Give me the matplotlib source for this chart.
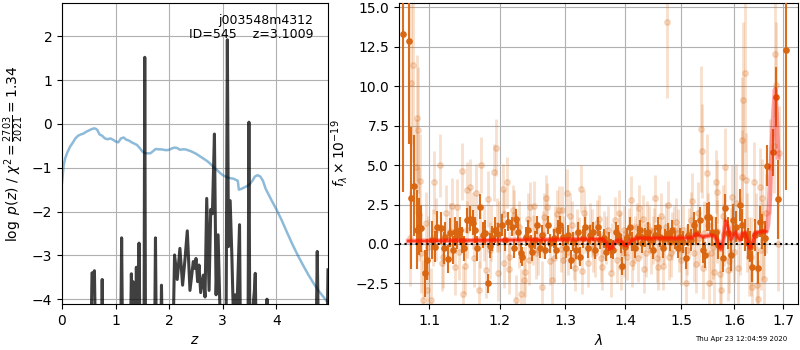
import matplotlib
matplotlib.use('Agg')
import matplotlib.pyplot as plt
from matplotlib.ticker import FixedLocator, FormatStrFormatter, NullLocator

# ---------------- left panel data: p(z) ----------------
z_chi = [0.0, 0.03, 0.06, 0.1, 0.15, 0.2, 0.25, 0.3, 0.35, 0.4, 0.45, 0.5, 0.55, 0.6, 0.63, 0.66,
         0.7, 0.75, 0.8, 0.85, 0.9, 0.95, 1.0, 1.05, 1.1, 1.15, 1.2, 1.25, 1.3, 1.35, 1.4, 1.45,
         1.5, 1.55, 1.6, 1.65, 1.7, 1.75, 1.8, 1.85, 1.9, 1.95, 2.0, 2.05, 2.1, 2.15, 2.2, 2.25,
         2.3, 2.35, 2.4, 2.45, 2.5, 2.55, 2.6, 2.65, 2.7, 2.75, 2.8, 2.85, 2.9, 2.95, 3.0, 3.05,
         3.1, 3.15, 3.2, 3.25, 3.28, 3.3, 3.35, 3.4, 3.45, 3.5, 3.55, 3.6, 3.65, 3.7, 3.75, 3.8,
         3.9, 4.0, 4.1, 4.2, 4.3, 4.4, 4.5, 4.6, 4.7, 4.8, 4.9, 4.96]
chi_scaled = [-1.35, -0.95, -0.78, -0.65, -0.52, -0.43, -0.33, -0.27, -0.24, -0.22, -0.18, -0.15, -0.12, -0.1, -0.11, -0.14,
              -0.24, -0.27, -0.33, -0.35, -0.33, -0.36, -0.4, -0.42, -0.33, -0.31, -0.36, -0.38, -0.42, -0.45, -0.48, -0.55,
              -0.63, -0.67, -0.67, -0.67, -0.62, -0.57, -0.58, -0.58, -0.59, -0.6, -0.59, -0.56, -0.54, -0.55, -0.59, -0.58,
              -0.58, -0.6, -0.62, -0.65, -0.68, -0.72, -0.76, -0.8, -0.84, -0.89, -0.95, -1.01, -1.06, -1.12, -1.17, -1.2,
              -1.23, -1.24, -1.25, -1.28, -1.3, -1.5, -1.48, -1.45, -1.42, -1.38, -1.3, -1.2, -1.17, -1.2, -1.3, -1.48,
              -1.72, -1.95, -2.2, -2.48, -2.75, -3.0, -3.23, -3.45, -3.65, -3.83, -3.98, -4.08]

z_pz = [0.00, 0.54, 0.56, 0.585, 0.605, 0.625, 0.735, 0.75, 0.765, 1.095, 1.1125, 1.13,
        1.275, 1.294, 1.31, 1.325, 1.345, 1.37, 1.3875, 1.405, 1.42, 1.4375, 1.455,
        1.53, 1.544, 1.558, 1.728, 1.744, 1.76, 1.842, 1.856, 1.872,
        2.07, 2.10, 2.15, 2.20, 2.25, 2.294, 2.3375, 2.3875, 2.45, 2.481, 2.50, 2.531,
        2.556, 2.5875, 2.6375, 2.669, 2.70, 2.744, 2.775, 2.806, 2.844, 2.875, 2.9125,
        2.95, 2.99, 3.06, 3.085, 3.106, 3.1375, 3.169, 3.20, 3.231, 3.26, 3.3125, 3.33,
        3.47, 3.4875, 3.505, 3.59, 3.606, 3.625, 3.80, 3.825, 3.85, 4.74, 4.7625, 4.785,
        4.945, 4.9625]
logpz = [-5.0, -5.0, -3.40, -3.45, -3.35, -5.0, -5.0, -3.55, -5.0, -5.0, -2.60, -5.0,
         -5.0, -3.42, -4.2, -3.60, -5.0, -5.0, -3.27, -5.0, -5.0, -2.72, -5.0,
         -5.0, 1.52, -5.0, -5.0, -2.60, -5.0, -5.0, -3.68, -5.0,
         -5.0, -2.99, -3.55, -2.84, -3.68, -3.10, -2.44, -3.80, -3.14, -3.30, -3.07, -3.60,
         -3.22, -3.85, -3.45, -3.95, -1.70, -3.80, -1.95, -2.05, -0.23, -3.90, -2.53,
         -4.4, -5.0, -5.0, 1.92, -2.80, -1.75, -3.00, -4.5, -3.90, -4.4, -2.30, -5.0,
         -5.0, 0.04, -5.0, -3.80, -3.41, -5.0, -5.0, -4.00, -5.0, -5.0, -2.91, -5.0,
         -5.0, -3.33]

z_ticks = [0, 1, 2, 3, 4]
logp_ticks = [-4, -3, -2, -1, 0, 1, 2]

# ---------------- right panel data: spectrum ----------------
bin_wave = [1.0655, 1.0728, 1.0756, 1.0796, 1.0839, 1.0862, 1.0885, 1.0942, 1.0970, 1.1041,
            1.1077, 1.1108, 1.1155, 1.1200, 1.1223, 1.1259, 1.1292, 1.1325, 1.1352, 1.1384,
            1.1421, 1.1454, 1.1479, 1.1525, 1.1573, 1.1606, 1.1634, 1.1667, 1.1715, 1.1748,
            1.1788, 1.1825, 1.1852, 1.1884, 1.1933, 1.1975, 1.2030, 1.2081, 1.2122, 1.2173,
            1.2208, 1.2234, 1.2274, 1.2310, 1.2335, 1.2386, 1.2421, 1.2462, 1.2487, 1.2528,
            1.2563, 1.2599, 1.2640, 1.2690, 1.2731, 1.2766, 1.2817, 1.2853, 1.2883, 1.2919,
            1.2970, 1.3010, 1.3050, 1.3094, 1.3133, 1.3171, 1.3204, 1.3243, 1.3282, 1.3326,
            1.3370, 1.3409, 1.3448, 1.3492, 1.3530, 1.3575, 1.3630, 1.3668, 1.3713, 1.3757,
            1.3796, 1.3834, 1.3879, 1.3923, 1.3945, 1.3989, 1.4036, 1.4077, 1.4119, 1.4167,
            1.4214, 1.4256, 1.4298, 1.4345, 1.4393, 1.4435, 1.4476, 1.4524, 1.4571, 1.4613,
            1.4655, 1.4702, 1.4750, 1.4792, 1.4833, 1.4881, 1.4929, 1.4970, 1.5032, 1.5076,
            1.5127, 1.5178, 1.5223, 1.5268, 1.5349, 1.5393, 1.5431, 1.5475, 1.5507, 1.5569,
            1.5645, 1.5696, 1.5778, 1.5823, 1.5886, 1.5937, 1.5981, 1.6047, 1.6115, 1.6162,
            1.6216, 1.6270, 1.6318, 1.6351, 1.6419, 1.6473, 1.6520, 1.6568, 1.6622, 1.6670,
            1.6787, 1.6843, 1.6897, 1.7062]
bin_flux = [13.3, 12.86, 2.9, 3.68, 0.9, 1.1, 1.0, -1.86, -1.0, 0.25,
            -0.17, 1.1, 1.0, -0.27, 0.47, -0.97, 0.72, -0.38, 0.78, 0.57,
            0.89, 0.25, -0.27, 1.5, 1.6, 1.35, 0.89, -0.27, 2.37, 0.57,
            0.72, -2.5, -0.1, 0.36, 0.89, 0.6, 1.2, 0.25, 1.4, 1.1,
            -0.27, 1.6, 0.78, -0.6, -0.8, 0.47, 0.89, -0.06, -0.5, 0.25,
            1.2, -0.27, 0.57, -0.38, 1.2, 0.04, 0.36, -0.38, 0.89, 1.2,
            0.47, -0.27, 0.57, -1.0, 0.15, -0.38, 0.78, -0.8, 0.36, 1.1,
            -0.27, 0.57, 0.78, -0.38, 1.1, 0.25, 0.36, -0.49, 0.15, -0.27,
            -0.38, 0.78, 0.57, 0.04, -1.40, -0.17, 0.42, 1.10, 0.15, -0.27,
            0.51, 0.89, 0.04, 0.42, 0.78, 0.25, -0.38, 0.57, 1.10, 0.42,
            -0.27, 0.36, 0.72, 0.15, 0.89, 0.25, -0.27, 0.42, 0.15, -0.91,
            0.57, 0.25, 1.21, 0.72, 1.52, -0.38, -0.7, 1.69, 1.73, 0.78,
            0.78, -0.06, -0.91, 2.26, 0.68, -0.7, 1.52, 1.10, 2.47, 1.21,
            0.57, 0.04, -0.17, -1.44, 0.57, -1.54, 1.42, 0.78, 0.36, 4.96,
            5.81, 9.33, 2.83, 12.3]
bin_err = [10.0, 6.5, 4.5, 3.2, 2.5, 1.8, 1.5, 1.5, 1.3, 1.2,
           1.0, 1.0, 1.0, 1.0, 0.9, 0.9, 0.9, 0.9, 0.9, 0.9,
           0.8, 0.8, 0.8, 0.8, 0.8, 0.8, 0.8, 0.8, 0.8, 0.8,
           0.8, 0.6, 0.8, 0.8, 0.8, 0.7, 0.7, 0.7, 0.6, 0.6,
           0.6, 0.6, 0.6, 0.6, 0.6, 0.6, 0.6, 0.6, 0.6, 0.6,
           0.6, 0.6, 0.6, 0.6, 0.6, 0.6, 0.6, 0.6, 0.6, 0.6,
           0.6, 0.6, 0.6, 0.6, 0.6, 0.6, 0.6, 0.6, 0.6, 0.6,
           0.6, 0.6, 0.6, 0.6, 0.6, 0.6, 0.6, 0.6, 0.6, 0.6,
           0.6, 0.6, 0.6, 0.6, 0.6, 0.6, 0.6, 0.6, 0.6, 0.6,
           0.6, 0.6, 0.6, 0.6, 0.6, 0.6, 0.6, 0.6, 0.6, 0.6,
           0.6, 0.6, 0.6, 0.6, 0.6, 0.6, 0.6, 0.6, 0.7, 0.7,
           0.7, 0.7, 0.8, 0.8, 0.8, 0.8, 0.8, 0.9, 0.9, 0.9,
           0.9, 0.9, 0.9, 0.9, 1.0, 1.0, 1.0, 1.0, 1.0, 1.0,
           1.0, 1.0, 1.0, 1.0, 1.0, 1.0, 1.0, 1.1, 1.1, 1.3,
           1.5, 1.9, 2.5, 8.9]

raw_wave = [1.0763, 1.0784, 1.0819, 1.0836, 1.0853, 1.0883, 1.0862, 1.0741, 1.0892, 1.0914,
            1.0957, 1.0965, 1.0991, 1.1024, 1.1071, 1.1094, 1.1142, 1.1189, 1.1236, 1.1307,
            1.1354, 1.1387, 1.1448, 1.1472, 1.1495, 1.1519, 1.1566, 1.1604, 1.1651, 1.1689,
            1.1731, 1.1764, 1.1802, 1.1830, 1.1873, 1.1906, 1.1943, 1.1967, 1.1991, 1.2040,
            1.2101, 1.2066, 1.2141, 1.2192, 1.2242, 1.2318, 1.2283, 1.2369, 1.2419, 1.2455,
            1.2505, 1.2545, 1.2631, 1.2672, 1.2722, 1.2798, 1.2838, 1.2899, 1.2939, 1.2975,
            1.3028, 1.3083, 1.3139, 1.3194, 1.3261, 1.3306, 1.3378, 1.3444, 1.3489, 1.3556,
            1.3611, 1.3667, 1.3750, 1.3822, 1.3889, 1.3933, 1.3972, 1.4030, 1.4090, 1.4132,
            1.4198, 1.4240, 1.4311, 1.4359, 1.4419, 1.4479, 1.4527, 1.4569, 1.4629, 1.4689,
            1.4731, 1.4749, 1.4808, 1.4868, 1.4928, 1.4988, 1.5082, 1.5146, 1.5196, 1.5241,
            1.5304, 1.5367, 1.5380, 1.5430, 1.5475, 1.5525, 1.5557, 1.5620, 1.5652, 1.5677,
            1.5747, 1.5778, 1.5829, 1.5873, 1.5937, 1.5968, 1.6033, 1.6153, 1.6187, 1.6220,
            1.6167, 1.6233, 1.6267, 1.6333, 1.6367, 1.6400, 1.6447, 1.6487, 1.6513, 1.6567,
            1.6600, 1.6633, 1.6733, 1.6800, 1.6833, 1.6847, 1.6900, 1.6887,
            1.105, 1.117, 1.128, 1.141, 1.153, 1.162, 1.171, 1.185, 1.196,
            1.206, 1.214, 1.221, 1.229, 1.236, 1.244, 1.251, 1.258, 1.265, 1.270, 1.276,
            1.283, 1.287, 1.295, 1.299, 1.305, 1.311, 1.316, 1.322, 1.328, 1.333, 1.340,
            1.346, 1.352, 1.358, 1.364, 1.370, 1.378, 1.385, 1.391, 1.398, 1.406, 1.411,
            1.417, 1.422, 1.428, 1.433, 1.438, 1.444, 1.450, 1.455, 1.460, 1.466, 1.471,
            1.477, 1.482, 1.490, 1.495, 1.503, 1.510, 1.517, 1.527, 1.533, 1.541, 1.550,
            1.559, 1.566, 1.572, 1.580, 1.590, 1.599, 1.608, 1.612, 1.629, 1.645, 1.653, 1.658]
raw_flux = [10.2, 11.35, 4.9, 8.0, 7.2, 4.0, 1.9, 0.35, -0.6, -3.55,
            1.3, -2.9, -0.2, -3.55, 3.9, 0.9, 5.0, -0.8, 1.95, 2.4,
            -1.45, 2.35, 4.6, -3.2, -1.4, 3.4, 3.6, 1.5, 3.25, -2.9,
            5.0, 0.7, -1.65, 2.85, 0.7, 4.55, 6.1, -1.85, 1.1, 3.5,
            3.9, -1.2, -0.8, 2.15, -3.55, -3.2, 1.1, -1.75, 1.6, 2.35,
            0.25, -0.6, -2.7, 1.7, 2.35, -2.3, 0.9, 2.15, -0.3, -1.0,
            3.25, 1.75, -0.8, 0.7, 3.5, 1.95, -1.2, 0.7, -0.6, 1.6,
            -1.45, 0.25, -1.85, 1.5, 1.95, -1.45, 0.9, -0.8, 2.8, -0.15,
            1.1, 2.25, 1.6, -0.6, 0.9, 0.25, 2.9, -1.45, 1.75, 0.25,
            14.05, 2.5, -0.6, 0.9, 0.7, -1.0, -2.5, 0.7, 2.7, -0.6,
            1.95, 7.3, 5.9, 0.7, 4.5, -2.5, -0.6, -1.8, 3.95, 3.3,
            -2.9, 1.75, 4.85, -1.65, 0.25, 3.0, 2.6, 6.6, 9.1, 10.85,
            4.25, 4.05, 0.7, -0.8, -2.7, 3.95, 0.7, -3.5, 3.6, 2.9,
            -2.2, 1.95, 4.9, 6.2, 12.05, 10.1, 5.75, 0.0,
            0.4, -1.2, 0.8, -0.5, 0.9, -0.9, 0.3, -0.4, 1.2,
            1.9, -1.6, 1.85, 0.1, -2.3, -1.0, 2.4, -0.4, 0.6, 2.9, -1.1,
            -0.9, 1.9, 2.15, 0.3, -0.5, 1.2, -1.5, 0.2, -1.7, 0.9, 1.1,
            -0.3, 1.3, -0.9, 0.6, 0.9, -0.2, -1.0, 0.5, -0.6, 0.8, -1.2,
            0.3, -0.9, 0.6, -1.6, 1.2, -0.4, 0.8, -0.9, 0.3, -1.4, 1.1,
            -0.8, 0.5, 1.4, -0.3, 0.9, -0.4, 1.5, -1.3, 0.4, -1.5, 1.2,
            -0.2, 0.8, -1.9, 0.6, -1.1, -0.5, -1.5, 0.5, -0.8, -2.6, -0.4, 0.2]
raw_err = [5.0, 5.0, 3.0, 4.0, 4.0, 3.0, 3.0, 3.0, 2.5, 2.5,
           2.0, 2.0, 2.0, 2.0, 2.0, 2.0, 2.0, 2.0, 1.8, 1.8,
           1.8, 1.8, 1.8, 1.8, 1.8, 1.8, 1.8, 1.8, 1.8, 1.8,
           1.8, 1.8, 1.8, 1.8, 1.8, 1.8, 1.8, 1.8, 1.6, 1.6,
           1.6, 1.6, 1.6, 1.6, 1.6, 1.6, 1.6, 1.6, 1.6, 1.6,
           1.6, 1.6, 1.6, 1.5, 1.5, 1.5, 1.5, 1.5, 1.5, 1.5,
           1.5, 1.5, 1.5, 1.5, 1.5, 1.5, 1.5, 1.5, 1.5, 1.5,
           1.5, 1.5, 1.5, 1.5, 1.5, 1.5, 1.5, 1.5, 1.5, 1.5,
           1.5, 1.5, 1.5, 1.5, 1.5, 1.5, 1.5, 1.5, 1.5, 1.5,
           4.8, 1.5, 1.5, 1.5, 1.5, 1.6, 1.6, 1.6, 1.8, 1.8,
           2.0, 4.0, 3.0, 2.0, 2.5, 2.0, 2.0, 2.0, 2.0, 2.0,
           2.0, 2.0, 2.5, 2.0, 2.0, 2.0, 2.5, 4.0, 5.0, 5.0,
           3.0, 3.0, 2.5, 2.5, 2.5, 2.5, 2.5, 2.5, 2.5, 2.5,
           2.5, 2.5, 3.0, 3.0, 4.0, 4.0, 3.0, 3.0,
           1.8, 1.8, 1.8, 1.8, 1.8, 1.8, 1.8, 1.8, 1.7,
           1.6, 1.6, 1.6, 1.6, 1.6, 1.6, 1.6, 1.6, 1.5, 1.5, 1.5,
           1.5, 1.5, 1.5, 1.5, 1.5, 1.5, 1.5, 1.5, 1.5, 1.5, 1.5,
           1.5, 1.5, 1.5, 1.5, 1.5, 1.5, 1.5, 1.5, 1.5, 1.5, 1.5,
           1.5, 1.5, 1.5, 1.5, 1.5, 1.5, 1.5, 1.5, 1.5, 1.5, 1.5,
           1.5, 1.5, 1.5, 1.5, 1.6, 1.6, 1.8, 1.8, 1.8, 2.0, 2.0,
           2.0, 2.0, 2.0, 2.0, 2.0, 2.0, 2.5, 2.5, 2.5, 2.5, 2.5, 2.5]

model_wave = [1.072, 1.10, 1.15, 1.20, 1.25, 1.30, 1.35, 1.362, 1.368, 1.372, 1.377, 1.382,
              1.386, 1.392, 1.398, 1.402, 1.406, 1.41, 1.42, 1.45, 1.48, 1.51, 1.52, 1.527,
              1.534, 1.54, 1.548, 1.555, 1.562, 1.568, 1.574, 1.579, 1.584, 1.589, 1.594,
              1.598, 1.603, 1.608, 1.612, 1.617, 1.622, 1.627, 1.632, 1.637, 1.642, 1.65,
              1.66, 1.665, 1.668, 1.672, 1.676, 1.68, 1.683, 1.686, 1.689]
model_flux = [0.18, 0.2, 0.22, 0.24, 0.26, 0.28, 0.3, 0.3, 0.05, -0.3, -0.25, 0.1,
              0.2, 0.25, -0.05, -0.1, 0.05, 0.25, 0.35, 0.36, 0.36, 0.38, 0.4, 0.62,
              0.55, 0.45, 0.5, 0.55, 0.5, 0.2, -0.35, 0.3, 1.45, 1.0, 0.3,
              0.5, 0.75, 0.4, 0.25, 0.7, 0.7, 0.2, -0.25, 0.1, 0.7, 0.75,
              0.8, 0.8, 1.2, 3.0, 6.0, 8.5, 9.8, 8.0, 5.5]

wave_ticks = [1.1, 1.2, 1.3, 1.4, 1.5, 1.6, 1.7]
flux_ticks = [-2.5, 0.0, 2.5, 5.0, 7.5, 10.0, 12.5, 15.0]

orange = '#d9650f'

fig = plt.figure(figsize=(8, 3.5), dpi=100)
ax1 = fig.add_axes([0.0775, 0.1314, 0.3325, 0.86])
ax2 = fig.add_axes([0.49875, 0.1314, 0.4988, 0.86])

# left panel
ax1.plot(z_chi, chi_scaled, color='tab:blue', alpha=0.5, lw=1.8, zorder=2)
ax1.plot(z_pz, logpz, color='k', alpha=0.75, lw=2.2, zorder=3)
ax1.set_xlim(0, 4.963)
ax1.set_ylim(-4.11, 2.76)
ax1.set_xticks(z_ticks)
ax1.set_yticks(logp_ticks)
ax1.grid(True)
ax1.set_axisbelow(True)
ax1.set_xlabel(r'$z$')
ax1.set_ylabel(r'$\log\ p(z)$' + ' / ' + r'$\chi^2=\frac{2703}{2021}=1.34$')
ax1.text(0.945, 0.965, 'j003548m4312\nID=545    z=3.1009', transform=ax1.transAxes,
         ha='right', va='top', fontsize=9, linespacing=1.1)

# right panel
ax2.errorbar(raw_wave, raw_flux, yerr=raw_err, marker='o', linestyle='None', color=orange,
             alpha=0.2, markersize=4, elinewidth=2.0, capsize=0, zorder=2)
ax2.errorbar(bin_wave, bin_flux, yerr=bin_err, marker='o', linestyle='None', color=orange,
             alpha=0.95, markersize=3.8, elinewidth=1.5, capsize=0, zorder=3)
ax2.plot(model_wave, model_flux, color='r', alpha=0.35, lw=3.5, zorder=4)
ax2.plot(model_wave[:48], model_flux[:48], color='#ff2000', alpha=0.75, lw=1.8, zorder=5)
ax2.axhline(0, color='k', linestyle=':', lw=1.5, zorder=6)
ax2.set_xscale('log')
ax2.set_xlim(1.06, 1.731)
ax2.set_ylim(-3.81, 15.28)
ax2.xaxis.set_major_locator(FixedLocator(wave_ticks))
ax2.xaxis.set_major_formatter(FormatStrFormatter('%.1f'))
ax2.xaxis.set_minor_locator(NullLocator())
ax2.set_yticks(flux_ticks)
ax2.grid(True)
ax2.set_axisbelow(True)
ax2.set_xlabel(r'$\lambda$')
ax2.set_ylabel(r'$f_\lambda \times 10^{-19}$')

fig.text(0.984, 0.031, 'Thu Apr 23 12:04:59 2020', ha='right', va='center', fontsize=5)

fig.savefig('out.png', dpi=100)
